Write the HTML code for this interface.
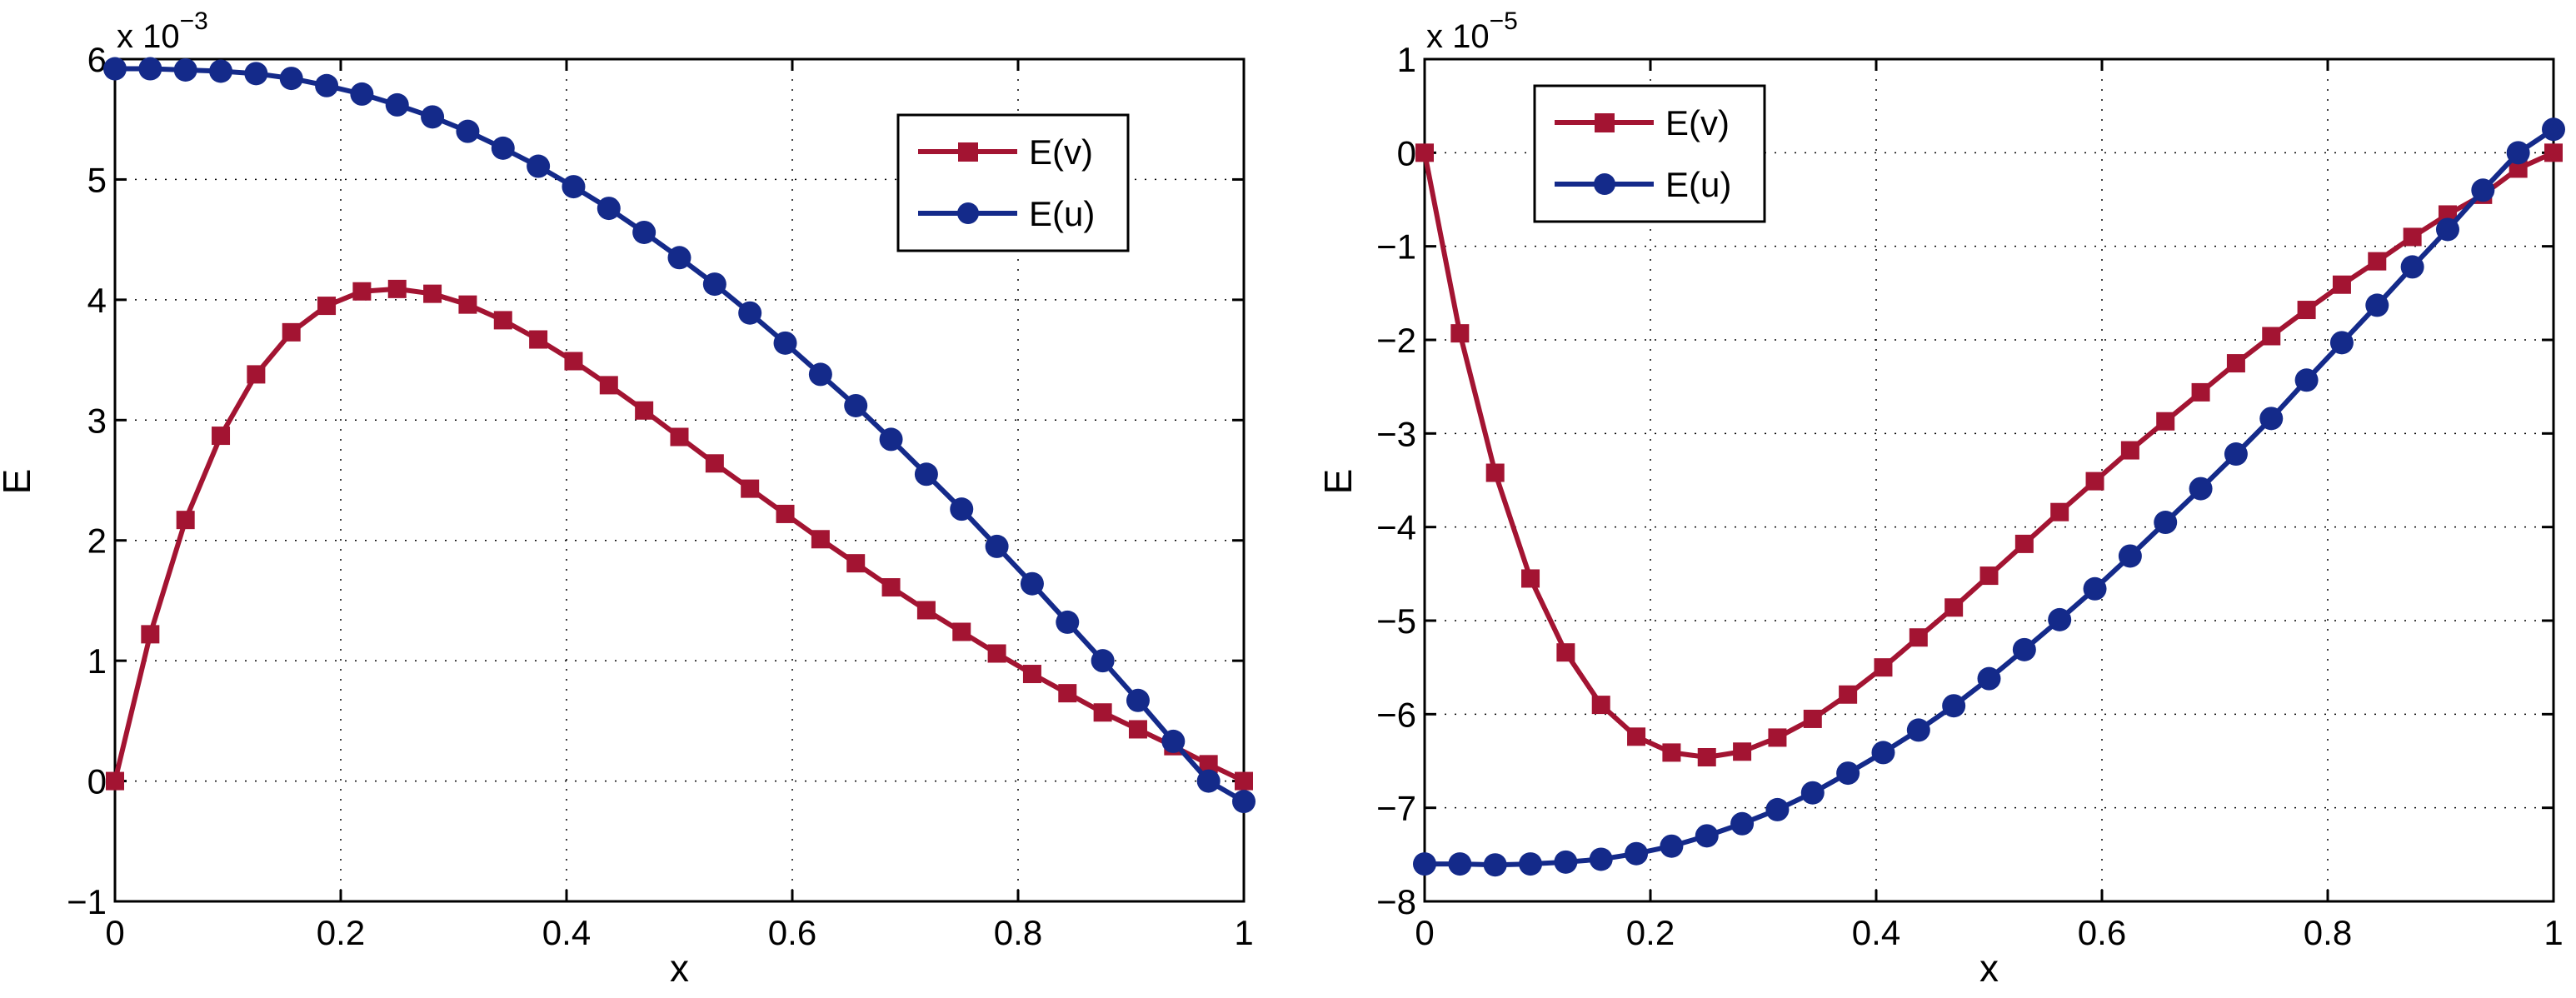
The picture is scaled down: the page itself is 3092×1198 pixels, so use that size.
<!DOCTYPE html>
<html><head><meta charset="utf-8"><style>
html,body{margin:0;padding:0;background:#fff;}
svg{display:block;font-family:"Liberation Sans",sans-serif;}
</style></head><body>
<svg id="fig" width="3092" height="1198" viewBox="0 0 3092 1198" xmlns="http://www.w3.org/2000/svg"></svg>
<script>
const xTicks = [0, 0.2, 0.4, 0.6, 0.8, 1];
const xTickLabels = ["0", "0.2", "0.4", "0.6", "0.8", "1"];
const leftYTicks = [-1, 0, 1, 2, 3, 4, 5, 6];
const rightYTicks = [-8, -7, -6, -5, -4, -3, -2, -1, 0, 1];
const xValues = Array.from({length: 33}, (_, i) => i / 32);
const leftEv = [0,1.22,2.17,2.87,3.38,3.73,3.95,4.07,4.09,4.05,3.96,3.83,3.67,3.49,3.29,3.08,2.86,2.64,2.43,2.22,2.01,1.81,1.61,1.42,1.24,1.06,0.89,0.73,0.57,0.43,0.29,0.14,0.0];
const leftEu = [5.92,5.92,5.91,5.90,5.88,5.84,5.78,5.71,5.62,5.52,5.40,5.26,5.11,4.94,4.76,4.56,4.35,4.13,3.89,3.64,3.38,3.12,2.84,2.55,2.26,1.95,1.64,1.32,1.00,0.67,0.33,0.0,-0.17];
const rightEv = [0,-1.93,-3.42,-4.55,-5.34,-5.90,-6.24,-6.41,-6.46,-6.40,-6.25,-6.05,-5.79,-5.50,-5.18,-4.86,-4.52,-4.18,-3.84,-3.51,-3.18,-2.87,-2.56,-2.25,-1.96,-1.68,-1.41,-1.16,-0.90,-0.66,-0.45,-0.17,0.0];
const rightEu = [-7.60,-7.60,-7.61,-7.60,-7.58,-7.55,-7.49,-7.41,-7.30,-7.17,-7.02,-6.84,-6.63,-6.41,-6.17,-5.91,-5.62,-5.31,-4.99,-4.66,-4.31,-3.95,-3.59,-3.22,-2.84,-2.43,-2.03,-1.63,-1.22,-0.82,-0.40,0.0,0.25];

const NS = "http://www.w3.org/2000/svg";
const svg = document.getElementById('fig');
const RED = "#A31432", BLUE = "#142A8A";
function mk(tag, attrs, parent) {
  const e = document.createElementNS(NS, tag);
  for (const k in attrs) e.setAttribute(k, attrs[k]);
  (parent || svg).appendChild(e);
  return e;
}
function panel(cfg) {
  const g = mk('g', {});
  
  
  const L = cfg.left, R = cfg.left + 1355, T = 71, B = 1082;
  const xs = v => L + (v - 0) / (1 - 0) * (R - L);
  const ys = v => B - (v - cfg.ymin) / (cfg.ymax - cfg.ymin) * (B - T);
  // grid
  xTicks.forEach((t, i) => {
    const x = xs(t);
    if (i > 0 && i < xTicks.length - 1) {
      const gl = mk('line', {x1: x, y1: T, x2: x, y2: B, stroke: '#000', 'stroke-width': 1.5, 'stroke-dasharray': '2 10'}, g);
      
      
    }
    const tk = mk('line', {x1: x, y1: B, x2: x, y2: B - 14, stroke: '#000', 'stroke-width': 3}, g);
    
    
    mk('line', {x1: x, y1: T, x2: x, y2: T + 14, stroke: '#000', 'stroke-width': 3}, g);
    const tl = mk('text', {x: x, y: B + 52, 'font-size': 42, 'text-anchor': 'middle'}, g);
    tl.textContent = xTickLabels[i];
    
    
  });
  cfg.yticks.forEach((t, i) => {
    const y = ys(t);
    if (i > 0 && i < cfg.yticks.length - 1) {
      const gl = mk('line', {x1: L, y1: y, x2: R, y2: y, stroke: '#000', 'stroke-width': 1.5, 'stroke-dasharray': '2 10'}, g);
      
      
    }
    mk('line', {x1: L, y1: y, x2: L + 14, y2: y, stroke: '#000', 'stroke-width': 3}, g);
    mk('line', {x1: R, y1: y, x2: R - 14, y2: y, stroke: '#000', 'stroke-width': 3}, g);
    const tl = mk('text', {x: L - 10, y: y + 15, 'font-size': 42, 'text-anchor': 'end'}, g);
    tl.textContent = t < 0 ? '\u2212' + Math.abs(t) : String(t);
    
    
  });
  const fr = mk('rect', {x: L, y: T, width: R - L, height: B - T, fill: 'none', stroke: '#000', 'stroke-width': 3}, g);
  
  
  // exponent
  const ex = mk('text', {x: L + 2, y: 57, 'font-size': 40}, g);
  
  
  ex.innerHTML = 'x 10<tspan dy="-22" font-size="30">\u2212' + cfg.exp + '</tspan>';
  // axis labels
  const xl = mk('text', {x: (L + R) / 2, y: 1178, 'font-size': 46, 'text-anchor': 'middle'}, g);
  xl.textContent = 'x';
  
  
  const yl = mk('text', {x: cfg.ylabX, y: 578, 'font-size': 46, 'text-anchor': 'middle', transform: 'rotate(-90 ' + cfg.ylabX + ' 578)'}, g);
  yl.textContent = 'E';
  
  
  // series
  function series(vals, color, marker, nm) {
    const sg = mk('g', {}, g);
    
    
    const pts = vals.map((v, i) => xs(xValues[i]) + ',' + ys(v)).join(' ');
    mk('polyline', {points: pts, fill: 'none', stroke: color, 'stroke-width': 6, 'stroke-linejoin': 'round'}, sg);
    vals.forEach((v, i) => {
      const cx = xs(xValues[i]), cy = ys(v);
      let m;
      if (marker === 'square') m = mk('rect', {x: cx - 11, y: cy - 11, width: 22, height: 22, fill: color}, sg);
      else m = mk('circle', {cx: cx, cy: cy, r: 14, fill: color}, sg);
      
      
    });
  }
  series(cfg.ev, RED, 'square', 'series-e-v');
  series(cfg.eu, BLUE, 'circle', 'series-e-u');
  // legend
  const lx = cfg.legX, ly = cfg.legY;
  const lg = mk('g', {}, g);
  
  
  mk('rect', {x: lx, y: ly, width: 276, height: 163, fill: '#fff', stroke: '#000', 'stroke-width': 3}, lg);
  const e1 = mk('g', {}, lg);
  
  
  mk('line', {x1: lx + 24, y1: ly + 44, x2: lx + 143, y2: ly + 44, stroke: RED, 'stroke-width': 6}, e1);
  mk('rect', {x: lx + 72, y: ly + 33, width: 24, height: 23, fill: RED}, e1);
  const t1 = mk('text', {x: lx + 157, y: ly + 59, 'font-size': 42}, e1);
  t1.textContent = 'E(v)';
  const e2 = mk('g', {}, lg);
  
  
  mk('line', {x1: lx + 24, y1: ly + 118, x2: lx + 143, y2: ly + 118, stroke: BLUE, 'stroke-width': 6}, e2);
  mk('circle', {cx: lx + 84, cy: ly + 118, r: 13, fill: BLUE}, e2);
  const t2 = mk('text', {x: lx + 157, y: ly + 133, 'font-size': 42}, e2);
  t2.textContent = 'E(u)';
}
panel({name: 'left-chart', left: 138, ymin: -1, ymax: 6, yticks: leftYTicks, exp: 3, ev: leftEv, eu: leftEu, ylabX: 36, legX: 1078, legY: 138});
panel({name: 'right-chart', left: 1710, ymin: -8, ymax: 1, yticks: rightYTicks, exp: 5, ev: rightEv, eu: rightEu, ylabX: 1622, legX: 1842, legY: 103});
</script>
</body></html>
